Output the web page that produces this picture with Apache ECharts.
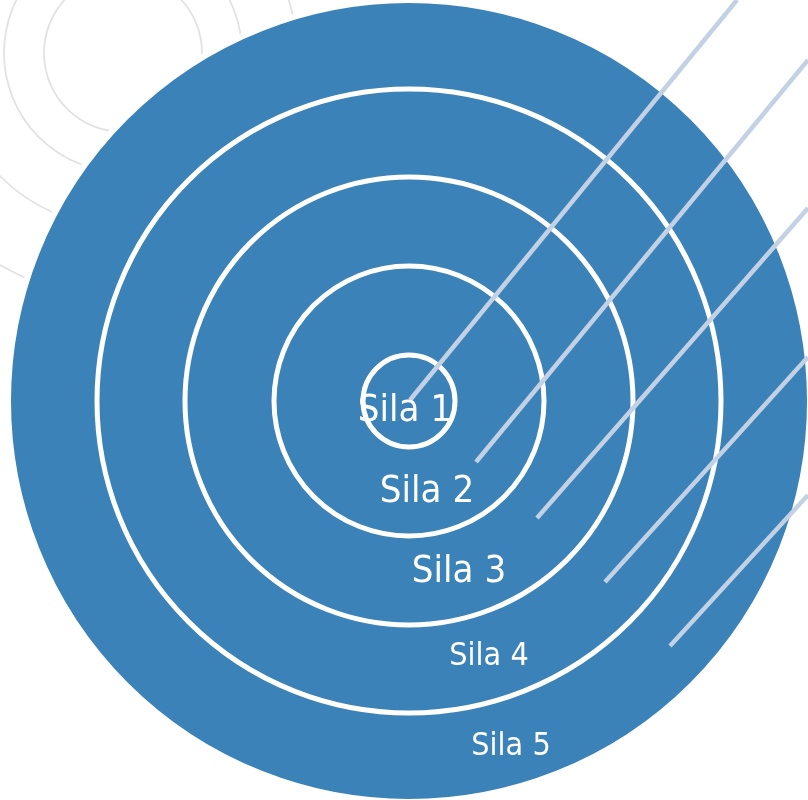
<!DOCTYPE html>
<html>
<head>
<meta charset="utf-8">
<script src="https://cdn.jsdelivr.net/npm/echarts@6/dist/echarts.min.js"></script>
<style>html,body{margin:0;padding:0;background:#fff}#c{width:808px;height:800px}</style>
</head>
<body>
<div id="c"></div>
<script>
// ---- data ----
const ringNames = ['Sila 1', 'Sila 2', 'Sila 3', 'Sila 4', 'Sila 5'];
const ringRadii = [46, 135, 224, 312, 398];
const targetCenter = [409, 401];
const labelX = [405, 427, 459, 489, 511];
const labelY = [411, 492, 572, 657, 747];
const decoCenter = [123, 53];
const decoRadii = [79, 119, 174, 245];
const leaderStart = [[410, 400], [476, 462], [537, 518], [605, 582], [670, 646]];
const leaderEnd = [[737, 0], [808, 60], [808, 208], [808, 357], [808, 495]];

const BLUE = '#3b82b9';
const chart = echarts.init(document.getElementById('c'), null, {renderer: 'canvas'});

const ringData = ringRadii.map((r, i) => [targetCenter[0], targetCenter[1], r, i]).reverse();
const decoData = decoRadii.map(r => [decoCenter[0], decoCenter[1], r]);
const lineData = leaderStart.map((s, i) => ({coords: [s, leaderEnd[i]]}));
const labelData = ringNames.map((n, i) => ({
  name: n,
  value: [labelX[i], labelY[i]],
  label: {fontSize: i < 3 ? 38 : 32}
}));

chart.setOption({
  animation: false,
  grid: {left: 0, right: 0, top: 0, bottom: 0},
  xAxis: {type: 'value', min: 0, max: 808, show: false},
  yAxis: {type: 'value', min: 0, max: 800, inverse: true, show: false},
  series: [
    {
      type: 'custom',
      z: 1,
      clip: false,
      data: decoData,
      renderItem: function (params, api) {
        const c = api.coord([api.value(0), api.value(1)]);
        const r = api.size([api.value(2), 0])[0];
        return {type: 'circle', shape: {cx: c[0], cy: c[1], r: r},
          style: {fill: 'none', stroke: '#e2e2e2', lineWidth: 1.8}};
      }
    },
    {
      type: 'custom',
      z: 2,
      clip: false,
      data: ringData,
      renderItem: function (params, api) {
        const c = api.coord([api.value(0), api.value(1)]);
        const r = api.size([api.value(2), 0])[0];
        const idx = api.value(3);
        if (idx === ringRadii.length - 1) {
          return {type: 'circle', shape: {cx: c[0], cy: c[1], r: r + 3},
            style: {fill: BLUE, stroke: '#ffffff', lineWidth: 6}};
        }
        return {type: 'circle', shape: {cx: c[0], cy: c[1], r: r},
          style: {fill: 'none', stroke: '#ffffff', lineWidth: 5}};
      }
    },
    {
      type: 'lines',
      coordinateSystem: 'cartesian2d',
      z: 3,
      data: lineData,
      lineStyle: {color: '#c3d1e4', width: 4.5, opacity: 1, cap: 'butt'},
      symbol: 'none'
    },
    {
      type: 'scatter',
      z: 4,
      symbolSize: 0,
      itemStyle: {opacity: 1},
      data: labelData,
      label: {
        show: true,
        position: 'inside',
        formatter: '{b}',
        color: '#ffffff',
        opacity: 1,
        fontFamily: '"DejaVu Sans Condensed", "DejaVu Sans", sans-serif'
      },
      emphasis: {disabled: true}
    }
  ]
});
</script>
</body>
</html>
